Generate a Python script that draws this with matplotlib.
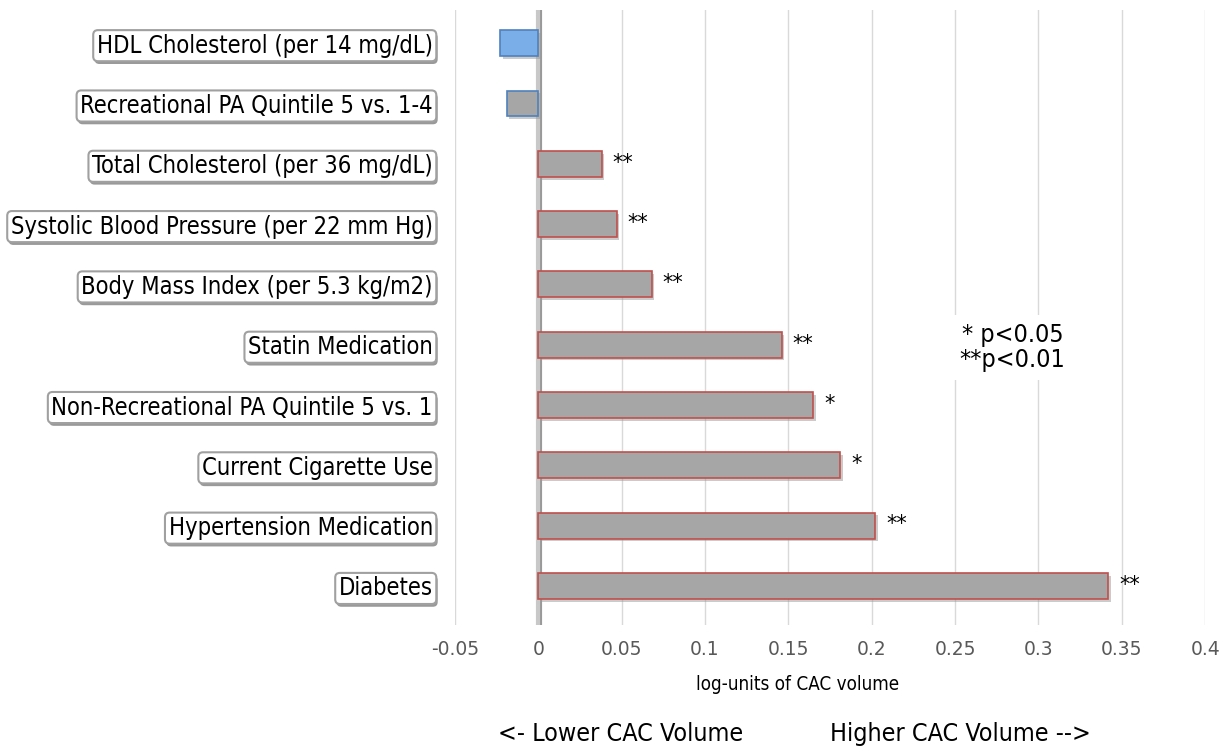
import numpy as np
import matplotlib.pyplot as plt
import matplotlib.patheffects as pe

factors = ["HDL Cholesterol (per 14 mg/dL)",
           "Recreational PA Quintile 5 vs. 1-4",
           "Total Cholesterol (per 36 mg/dL)",
           "Systolic Blood Pressure (per 22 mm Hg)",
           "Body Mass Index (per 5.3 kg/m2)",
           "Statin Medication",
           "Non-Recreational PA Quintile 5 vs. 1",
           "Current Cigarette Use",
           "Hypertension Medication",
           "Diabetes"]
coef = [-0.023, -0.019, 0.038, 0.047, 0.068, 0.146, 0.165, 0.181, 0.202, 0.342]
stars = ["", "", "**", "**", "**", "**", "*", "*", "**", "**"]
xticks = [-0.05, 0, 0.05, 0.1, 0.15, 0.2, 0.25, 0.3, 0.35, 0.4]
xtick_labels = ["-0.05", "0", "0.05", "0.1", "0.15", "0.2", "0.25", "0.3", "0.35", "0.4"]

plt.rcParams['font.family'] = ['DejaVu Sans']
plt.rcParams['font.stretch'] = 'condensed'

fig = plt.figure(figsize=(12.31, 7.46), dpi=100)
ax = fig.add_axes([0.3696, 0.162, 0.6094, 0.8246])

ypos = np.arange(len(factors))
fills = ['#7aaee8' if i == 0 else '#a6a6a6' for i in range(len(coef))]
edges = ['#4f81bd' if c < 0 else '#c0504d' for c in coef]
shadow = [pe.SimplePatchShadow(offset=(2, -2), shadow_rgbFace='#999999', alpha=0.5), pe.Normal()]
bars = ax.barh(ypos, coef, height=0.43, color=fills, edgecolor=edges, linewidth=1.2, zorder=3)
for b in bars:
    b.set_path_effects(shadow)

for y, c, s in zip(ypos, coef, stars):
    if s:
        ax.text(c + 0.0065, y - 0.02, s, fontsize=15, fontstretch='normal',
                ha='left', va='center', zorder=4)

ax.axvline(0, color='#c8c8c8', linewidth=3, zorder=2,
           path_effects=[pe.SimpleLineShadow(offset=(1.5, -1), alpha=0.4), pe.Normal()])

ax.set_xlim(-0.05, 0.4)
ax.set_ylim(9.65, -0.55)
ax.set_xticks(xticks)
ax.set_xticklabels(xtick_labels, fontsize=13.5, color='#595959', fontstretch='normal')
ax.xaxis.grid(True, color='#d9d9d9', linewidth=1, zorder=0)
ax.set_axisbelow(True)
for sp in ax.spines.values():
    sp.set_visible(False)
ax.tick_params(axis='both', length=0, pad=11)

ax.set_yticks(ypos)
ax.set_yticklabels(factors, fontsize=17)
ax.tick_params(axis='y', pad=16)
for lab in ax.get_yticklabels():
    lab.set_bbox(dict(boxstyle='round,pad=0.15,rounding_size=0.2', fc='white',
                      ec='#a0a0a0', lw=1.5))
    lab.get_bbox_patch().set_path_effects(
        [pe.SimplePatchShadow(offset=(1, -2), shadow_rgbFace='#555555', alpha=0.6), pe.Normal()])

fig.text(0.6475, 0.083, "log-units of CAC volume", fontsize=13.5, ha='center', va='center')

ax.text(0.2845, 5.05, "* p<0.05\n**p<0.01", fontsize=18, ha='center', va='center',
        linespacing=1.05, zorder=5,
        bbox=dict(fc='white', ec='none', pad=6))

fig.text(0.5045, 0.0, "<- Lower CAC Volume", fontsize=18, ha='center', va='bottom')
fig.text(0.78, 0.0, "Higher CAC Volume -->", fontsize=18, ha='center', va='bottom')

fig.savefig('out.png', dpi=100)
